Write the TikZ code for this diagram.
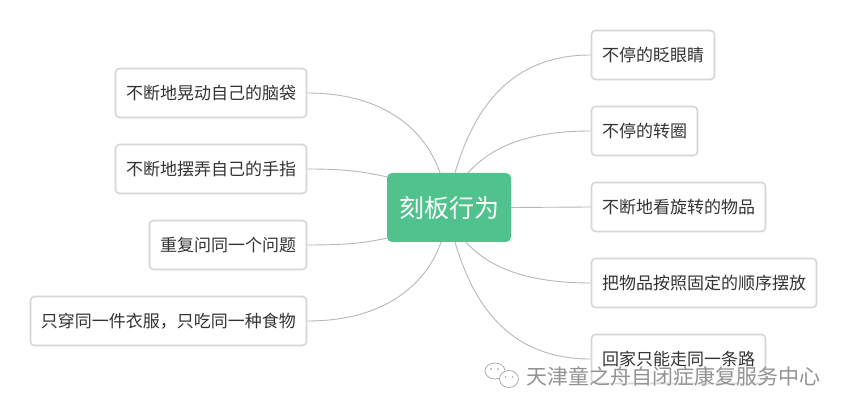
\documentclass[tikz,border=0pt]{standalone}
\usepackage{fontspec}
\usetikzlibrary{calc}
\newfontfamily\cjk{Noto Sans CJK SC}
\definecolor{lnk}{HTML}{B8B8B8}
\definecolor{bd}{HTML}{D6D6D6}
\definecolor{grn}{HTML}{50C28E}
\definecolor{txt}{HTML}{333333}
\pgfdeclarelayer{bg}\pgfsetlayers{bg,main}
\tikzset{
 x=1pt,y=-1pt,
 leaf/.style={draw=bd,line width=1.6pt,rounded corners=4pt,fill=white,minimum height=49pt,inner sep=0pt,text=txt,font=\cjk\fontsize{17}{17}\selectfont},
 hub/.style={fill=grn,rounded corners=5pt,minimum width=124pt,minimum height=69pt,inner sep=0pt,text=white,font=\cjk\fontsize{25}{25}\selectfont},
 lnkline/.style={draw=lnk,line width=0.9pt},
 mark text/.style={text=gray!85,font=\cjk\fontsize{21}{21}\selectfont,inner sep=0pt},
}
\begin{document}
\begin{tikzpicture}
\useasboundingbox (0,0) rectangle (847,414);
\begin{pgfonlayer}{bg}
\fill[white] (0,0) rectangle (847,414);
\end{pgfonlayer}
\node[hub] (c) at (449,207.5) {刻板行为};
\node[leaf,minimum width=191pt] (a) at (211,93) {不断地晃动自己的脑袋};
\node[leaf,minimum width=191pt] (b) at (211,169) {不断地摆弄自己的手指};
\node[leaf,minimum width=157pt] (d) at (228,245) {重复问同一个问题};
\node[leaf,minimum width=276pt] (e) at (168.5,321) {只穿同一件衣服，只吃同一种食物};
\node[leaf,minimum width=123pt] (f) at (653,55) {不停的眨眼睛};
\node[leaf,minimum width=106pt] (g) at (644.5,131) {不停的转圈};
\node[leaf,minimum width=174pt] (h) at (678.5,207) {不断地看旋转的物品};
\node[leaf,minimum width=225pt] (i) at (704,283) {把物品按照固定的顺序摆放};
\node[leaf,minimum width=174pt] (j) at (678.5,359) {回家只能走同一条路};
\coordinate (ca) at ($(c.north)+(-9,0)$);
\coordinate (cb) at ($(c.north west)+(0,4)$);
\coordinate (cd) at ($(c.south west)+(0,-4)$);
\coordinate (ce) at ($(c.south)+(-8,0)$);
\coordinate (cf) at ($(c.north)+(6,0)$);
\coordinate (cg) at ($(c.north)+(19,0)$);
\coordinate (ci) at ($(c.south)+(17,0)$);
\coordinate (cj) at ($(c.south)+(6,0)$);
\begin{pgfonlayer}{bg}
\draw[lnkline] (a.east) .. controls ($(a.east)+(85,0)$) and ($(ca)+(-12,-35)$) .. (ca);
\draw[lnkline] (b.east) .. controls ($(b.east)+(45,0)$) and ($(cb)+(-20,-4)$) .. (cb);
\draw[lnkline] (d.east) .. controls ($(d.east)+(45,0)$) and ($(cd)+(-20,4)$) .. (cd);
\draw[lnkline] (e.east) .. controls ($(e.east)+(85,0)$) and ($(ce)+(-12,35)$) .. (ce);
\draw[lnkline] (f.west) .. controls ($(f.west)+(-90,0)$) and ($(cf)+(15,-50)$) .. (cf);
\draw[lnkline] (g.west) .. controls ($(g.west)+(-70,0)$) and ($(cg)+(20,-22)$) .. (cg);
\draw[lnkline] (h.west) -- (c.east);
\draw[lnkline] (i.west) .. controls ($(i.west)+(-70,0)$) and ($(ci)+(20,22)$) .. (ci);
\draw[lnkline] (j.west) .. controls ($(j.west)+(-90,0)$) and ($(cj)+(15,50)$) .. (cj);
\end{pgfonlayer}
\node[mark text,anchor=west,text=white] (ms) at (526.8,376.8) {天津童之舟自闭症康复服务中心};
\node[mark text,anchor=west] (m) at (526,376) {天津童之舟自闭症康复服务中心};
\begin{scope}[draw=gray!70,line width=0.7pt]
\draw (495,371) ellipse (10 and 8);
\draw[fill=white] (509,379) ellipse (9.5 and 8.5);
\fill[gray!70] (491,369) circle (1) (498,369) circle (1) (505.5,377) circle (0.9) (512.5,377) circle (0.9);
\end{scope}
\end{tikzpicture}
\end{document}
